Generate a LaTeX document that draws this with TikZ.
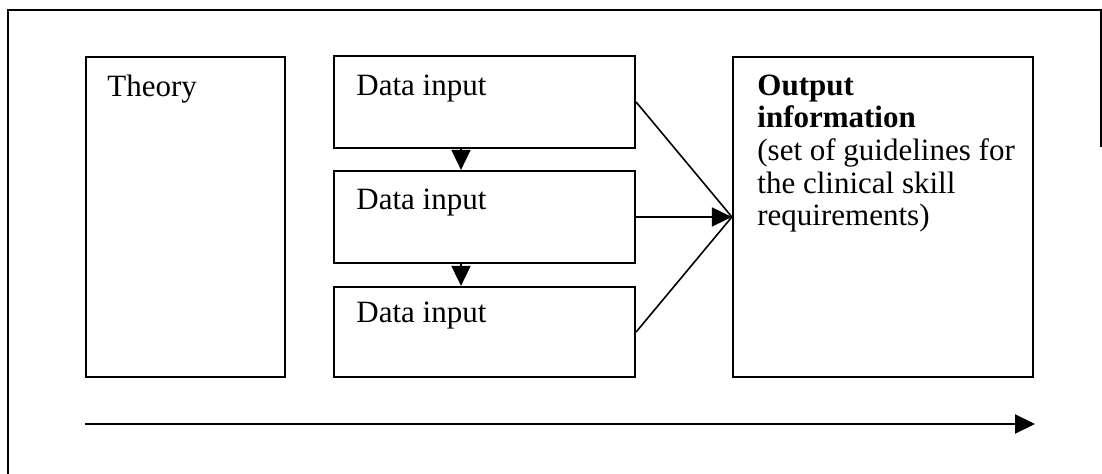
\documentclass[tikz,border=0pt]{standalone}
\usepackage{fontspec}
\setmainfont{Liberation Serif}
\usetikzlibrary{arrows.meta,fit,positioning}

\tikzset{
  box/.style={draw, line width=1.1pt, inner sep=0pt},
  txt/.style={anchor=base west, inner sep=0pt, font=\fontsize{15.5}{16.35}\selectfont},
  tip/.style={-{Triangle[length=10pt,width=9.5pt]}, line width=0.8pt},
}

\begin{document}
\begin{tikzpicture}[x=0.5pt, y=-0.5pt]
  \useasboundingbox (0,0) rectangle (1102,474);

  %outer frame
  \draw[line width=1.2pt] (1101,147) -- (1101,10) -- (8,10) -- (8,474);

  %theory
  \node[box, fit={(86,57) (285,377)}] (th) {};
  \node[txt] (th-t) at (107,97) {Theory};

  %data input boxes
  \foreach \name/\top/\bot/\base in {in1/56/148/96, in2/171/263/210, in3/287/377/323}{
     \node[box, fit={(334,\top) (635,\bot)}] (\name) {};
     \node[txt] (\name-t) at (356,\base) {Data input};
  }

  %output (base = last line)
  \node[box, fit={(733,57) (1033,377)}] (out) {};
  \node[txt, align=left] (out-t) at (757,226) {\textbf{Output}\\ \textbf{information}\\ (set of guidelines for\\ the clinical skill\\ requirements)};

  %arrows between the inputs
  \coordinate (ax) at (461,0);
  \draw[tip] (in1.south -| ax) -- (in2.north -| ax);
  \draw[tip] (in2.south -| ax) -- (in3.north -| ax);

  %inputs into output
  \draw[line width=0.8pt] (in1.east) -- (out.west);
  \draw[tip] (in2.east) -- (out.west);
  \draw[line width=0.8pt] (in3.east) -- (out.west);

  %time line
  \coordinate (t0) at (85,424);
  \coordinate (t1) at (1035,424);
  \draw[tip, line width=1pt] (t0) -- (t1);
\end{tikzpicture}
\end{document}
